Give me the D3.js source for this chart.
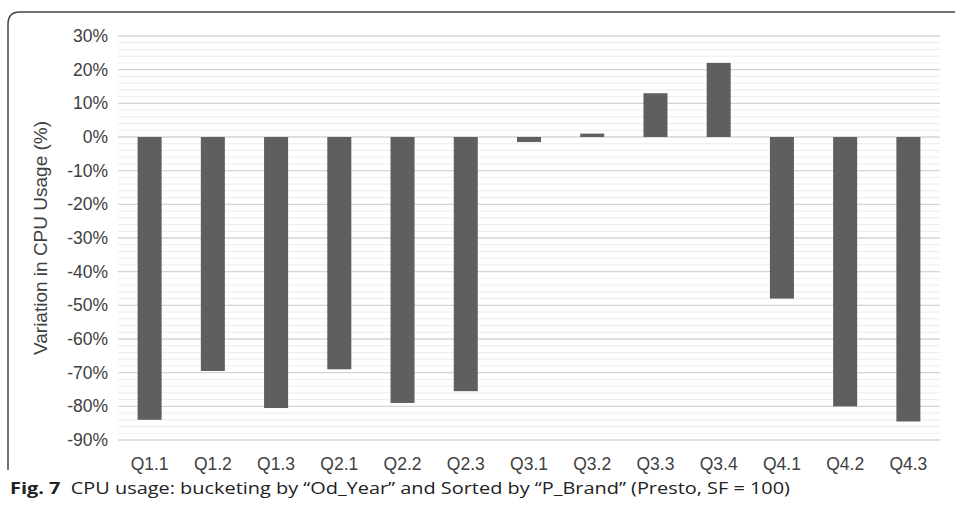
<!DOCTYPE html>
<html><head><meta charset="utf-8">
<script src="https://cdn.jsdelivr.net/npm/d3@7"></script>
<style>body{margin:0;background:#fff}</style></head>
<body><svg id="c" width="955" height="509"></svg>
<script>
const categories=["Q1.1","Q1.2","Q1.3","Q2.1","Q2.2","Q2.3","Q3.1","Q3.2","Q3.3","Q3.4","Q4.1","Q4.2","Q4.3"];
const values=[-84,-69.5,-80.5,-69,-79,-75.5,-1.5,1,13,22,-48,-80,-84.5];
const yTicks=[30,20,10,0,-10,-20,-30,-40,-50,-60,-70,-80,-90];
const svg=d3.select("#c");
svg.append("path").attr("d","M8,470 L8,24 Q8,12 20,12 L955,12").attr("fill","none").attr("stroke","#444").attr("stroke-width",1.5);
const x=d3.scaleBand().domain(categories).range([118,940]).paddingInner(0.62).paddingOuter(0.31);
const y=d3.scaleLinear().domain([-90,30]).range([440,36]);
const g=svg.append("g");
d3.range(-90,31,2).forEach(v=>{
 const major=v%10===0;
 g.append("line").attr("x1",118).attr("x2",940).attr("y1",y(v)).attr("y2",y(v))
  .attr("stroke",major?"#d4d4d4":"#ececec").attr("stroke-width",major?1.3:1);
});
g.selectAll("rect").data(values).join("rect")
 .attr("x",(d,i)=>x(categories[i])).attr("width",x.bandwidth())
 .attr("y",d=>y(Math.max(0,d))).attr("height",d=>Math.abs(y(d)-y(0)))
 .attr("fill","#5f5f5f");
const ya=d3.axisLeft(y).tickValues(yTicks).tickFormat(d=>d+"%").tickSize(0).tickPadding(10);
svg.append("g").attr("transform","translate(118,0)").call(ya)
 .call(a=>a.select(".domain").remove())
 .selectAll("text").attr("font-family","Liberation Sans, Arial").attr("font-size",17.5).attr("fill","#404040");
const xa=d3.axisBottom(x).tickSize(0).tickPadding(8);
svg.append("g").attr("transform","translate(0,450)").call(xa)
 .call(a=>a.select(".domain").remove())
 .selectAll("text").attr("font-family","Liberation Sans, Arial").attr("font-size",17.5).attr("fill","#404040");
svg.append("text").attr("transform","translate(47,238) rotate(-90)").attr("text-anchor","middle")
 .attr("font-family","Liberation Sans, Arial").attr("font-size",19).attr("fill","#404040").text("Variation in CPU Usage (%)");
const cap=svg.append("text").attr("x",10).attr("y",494).attr("font-family","Open Sans, Noto Sans").attr("font-size",15.5).attr("fill","#222").attr("textLength",780).attr("lengthAdjust","spacingAndGlyphs");
cap.append("tspan").attr("font-weight","bold").text("Fig. 7");
cap.append("tspan").attr("dx",8).text("CPU usage: bucketing by “Od_Year” and Sorted by “P_Brand” (Presto, SF = 100)");
</script></body></html>
